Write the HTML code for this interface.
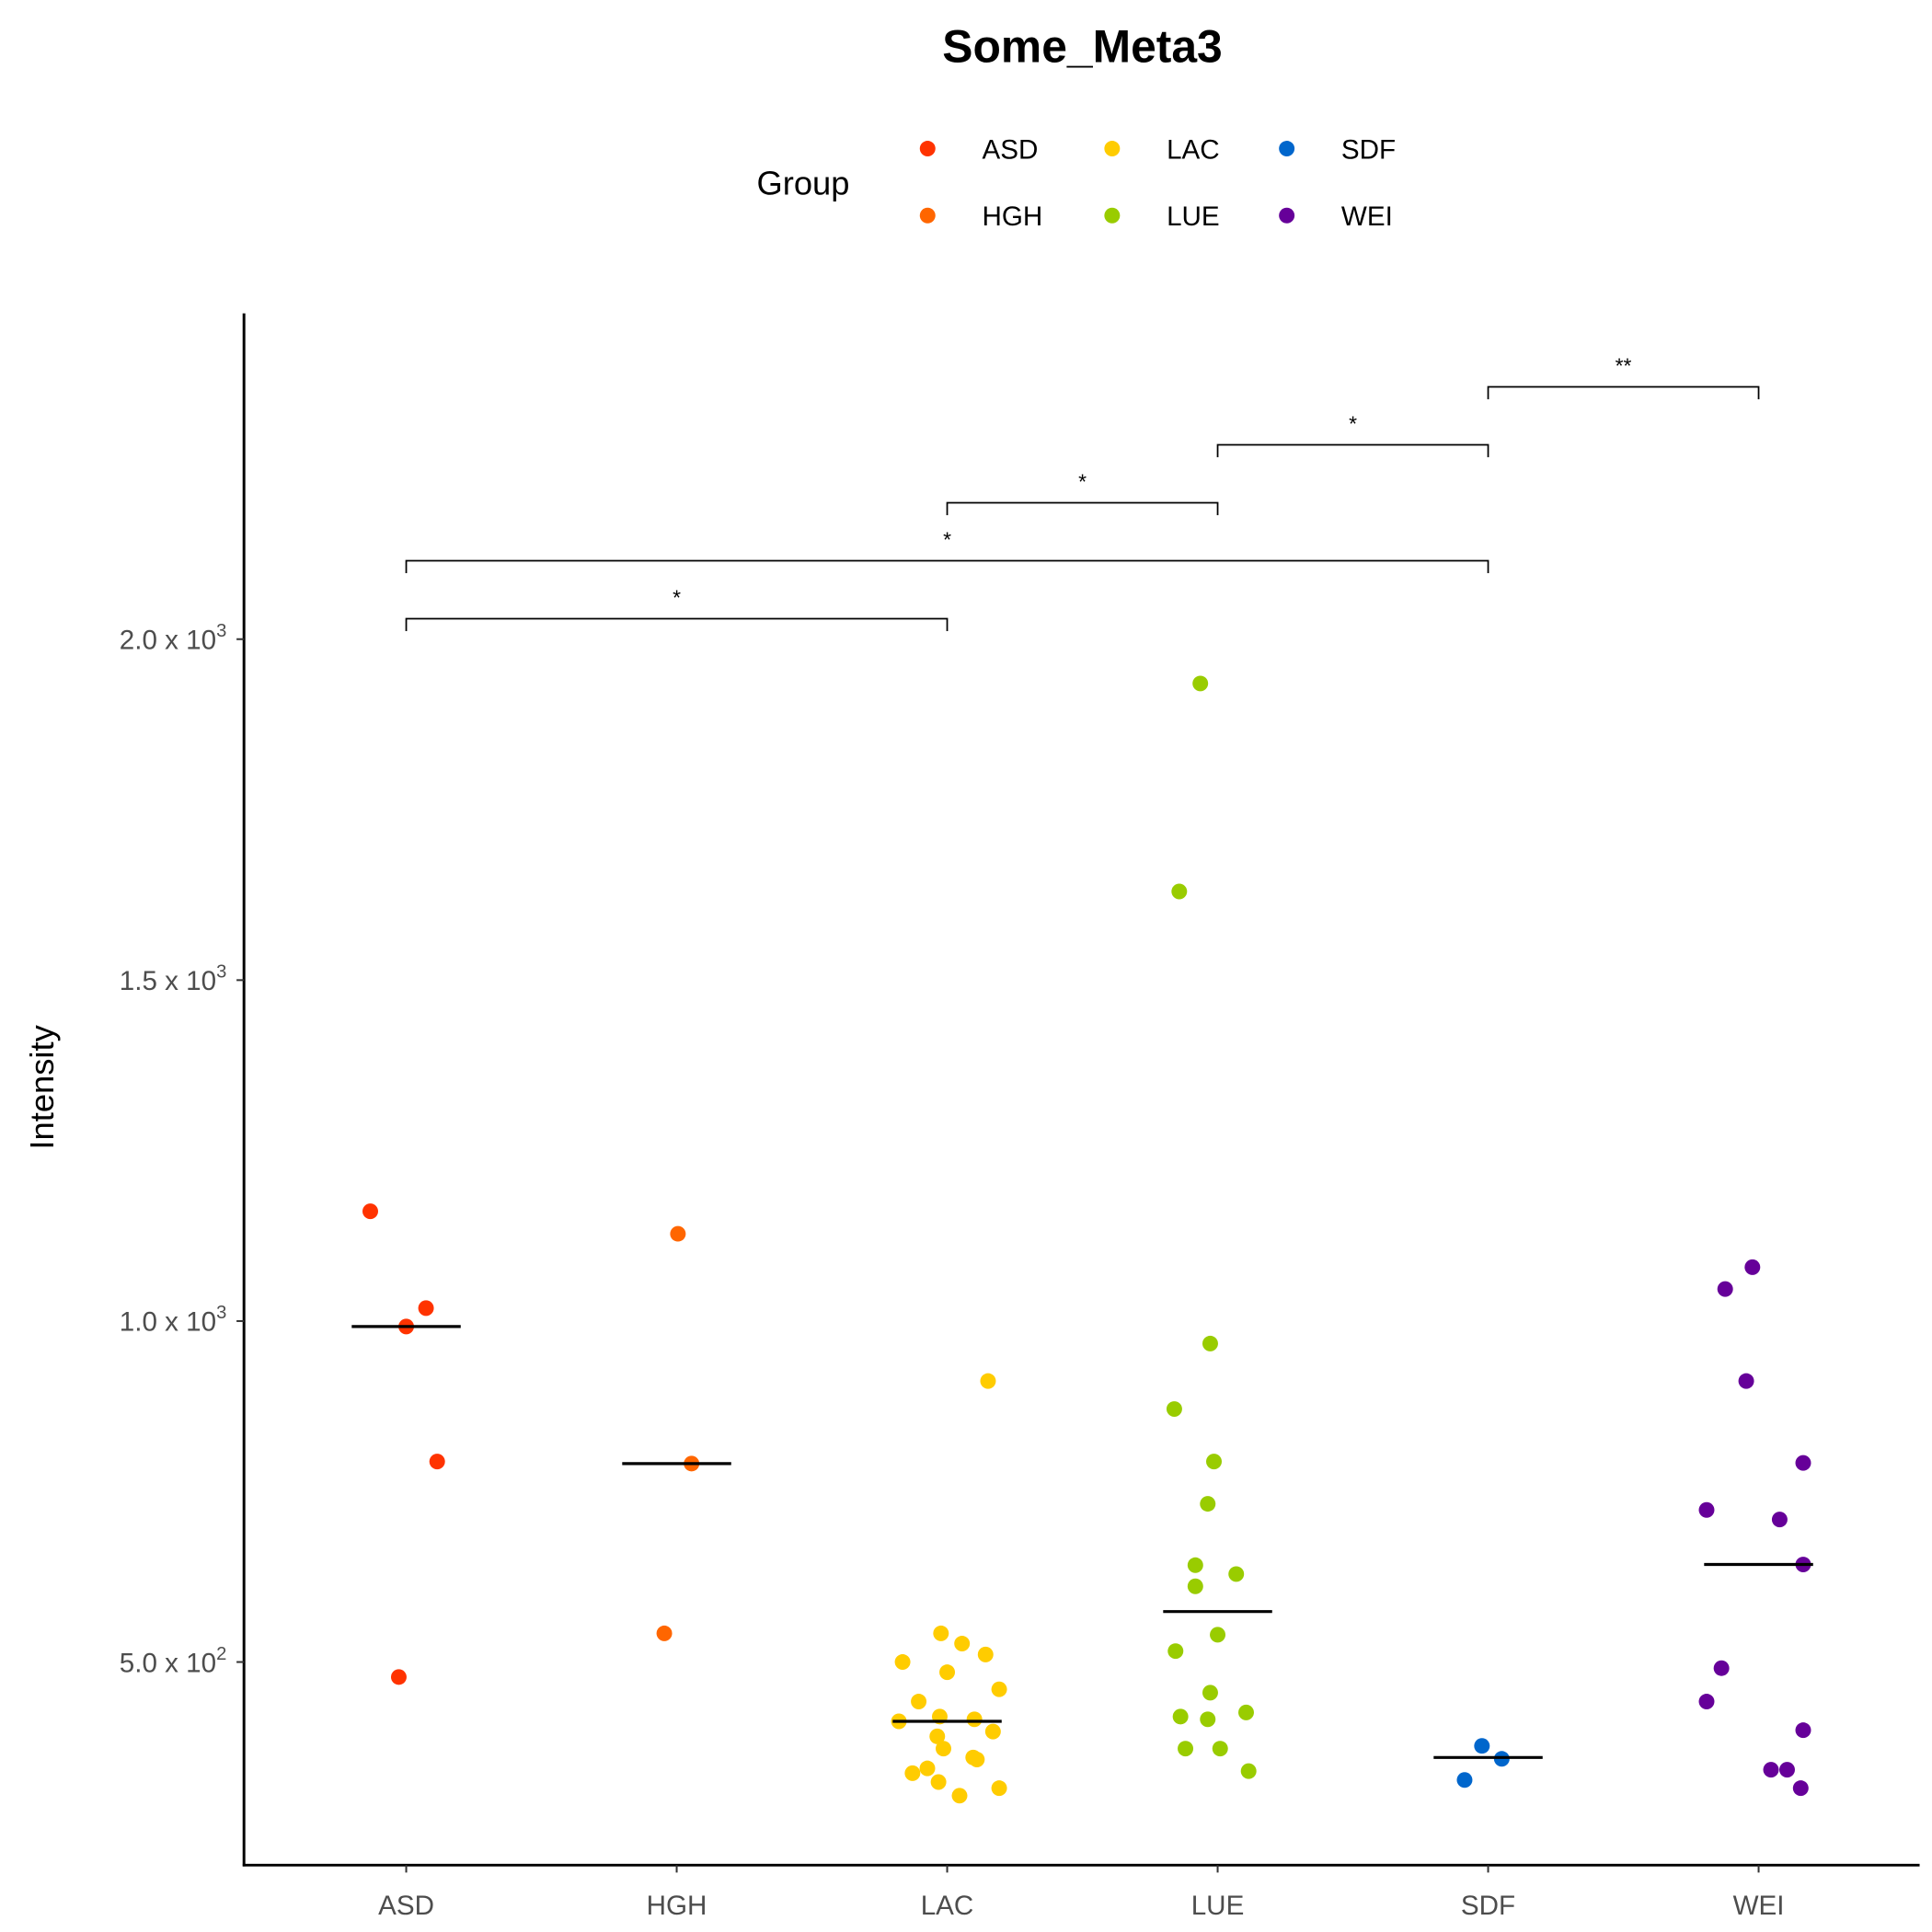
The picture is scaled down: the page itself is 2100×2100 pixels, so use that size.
<!DOCTYPE html>
<html><head><meta charset="utf-8"><style>html,body{margin:0;padding:0;background:#fff}svg{display:block;font-family:"Liberation Sans",Arial,sans-serif}</style></head>
<body>
<svg id="chart" width="2100" height="2100" viewBox="0 0 1560 1560" xmlns="http://www.w3.org/2000/svg">
<text x="874" y="50" text-anchor="middle" font-size="37" font-weight="bold">Some_Meta3</text>
<g id="legend">
<text x="611" y="157" font-size="27">Group</text>
</g>
<text transform="translate(43,878) rotate(-90)" text-anchor="middle" font-size="27">Intensity</text>
<g id="plot"></g>
</svg>
<script>
const categories = ["ASD","HGH","LAC","LUE","SDF","WEI"];
const colors = ["#FF3300","#FF6600","#FFCC00","#99CC00","#0066CC","#660099"];
const yTicks = [500,1000,1500,2000];
const yTickLabels = ["5.0 x 10","1.0 x 10","1.5 x 10","2.0 x 10"];
const yTickExp = ["2","3","3","3"];
const valsASD = [1161,1019,992,794,478];
const valsHGH = [1128,791,542];
const valsLAC = [912,500,542,527,511,485,442,460,413,420,416,398,391,373,360,357,344,337,324,315,304];
const valsLUE = [1935,1630,967,871,794,732,642,629,611,540,516,455,420,416,426,373,373,340];
const valsSDF = [377,358,327];
const valsWEI = [1079,1047,912,792,723,709,643,491,442,400,342,342,315];
const jitterASD = [-29,16,0,25,-6];
const jitterHGH = [1,12,-10];
const jitterLAC = [33,-36,-5,12,31,0,-23,42,-39,-6,22,37,-8,-3,21,24,-16,-28,-7,42,10];
const jitterLUE = [-14,-31,-6,-35,-3,-8,-18,15,-18,0,-34,-6,-30,-8,23,-26,2,25];
const jitterSDF = [-5,11,-19];
const jitterWEI = [-5,-27,-10,36,-42,17,36,-30,-42,36,10,23,34];
const medians = [992,791,413,574,360,643];
const comparisons = [["ASD","LAC","*"],["ASD","SDF","*"],["LAC","LUE","*"],["LUE","SDF","*"],["SDF","WEI","**"]];
const bracketY = [2030,2115,2200,2285,2370];
const allVals=[valsASD,valsHGH,valsLAC,valsLUE,valsSDF,valsWEI];
const allJit=[jitterASD,jitterHGH,jitterLAC,jitterLUE,jitterSDF,jitterWEI];
const NS="http://www.w3.org/2000/svg";
const X0=197,X1=1550,Ybot=1506,Ytop=253;
const xPos=i=>328+i*218.4;
const yPos=v=>1342-(v-500)*0.5506;
const plot=document.getElementById('plot');
function mk(tag,attrs,parent){const e=document.createElementNS(NS,tag);for(const k in attrs)e.setAttribute(k,attrs[k]);(parent||plot).appendChild(e);return e;}
// axes
let ax=mk('line',{x1:X0,y1:Ytop,x2:X0,y2:Ybot+1,stroke:'#000','stroke-width':2.2});


ax=mk('line',{x1:X0-1,y1:Ybot,x2:X1,y2:Ybot,stroke:'#000','stroke-width':2.2});


yTicks.forEach((v,i)=>{
 const y=yPos(v);
 const t=mk('line',{x1:X0-6,y1:y,x2:X0,y2:y,stroke:'#333','stroke-width':1.5});
 
 
 const tx=mk('text',{x:183,y:y+8,'text-anchor':'end','font-size':22,fill:'#4d4d4d'});
 
 
 tx.appendChild(document.createTextNode(yTickLabels[i]));
 const sp=mk('tspan',{dy:-10,'font-size':15},tx);sp.textContent=yTickExp[i];
});
categories.forEach((c,i)=>{
 const x=xPos(i);
 const t=mk('line',{x1:x,y1:Ybot,x2:x,y2:Ybot+6,stroke:'#333','stroke-width':1.5});
 
 
 const tx=mk('text',{x:x,y:1546,'text-anchor':'middle','font-size':22,fill:'#4d4d4d'});
 
 
 tx.textContent=c;
});
allVals.forEach((vals,i)=>{
 vals.forEach((v,j)=>{
  const p=mk('circle',{cx:xPos(i)+allJit[i][j],cy:yPos(v),r:6.3,fill:colors[i]});
  
  
 });
 const m=mk('line',{x1:xPos(i)-44,x2:xPos(i)+44,y1:yPos(medians[i]),y2:yPos(medians[i]),stroke:'#000','stroke-width':2.4});
 
 
});
comparisons.forEach((c,k)=>{
 const a=xPos(categories.indexOf(c[0])),b=xPos(categories.indexOf(c[1])),y=yPos(bracketY[k]);
 const br=mk('path',{d:`M${a},${y+10}V${y}H${b}V${y+10}`,fill:'none',stroke:'#000','stroke-width':1.3});
 
 
 const s=mk('text',{x:(a+b)/2,y:y-11,'text-anchor':'middle','font-size':17});
 
 
 s.textContent=c[2];
});
const lg=document.getElementById('legend');
const lx=[749,898,1039], order=[[0,1],[2,3],[4,5]];
order.forEach((col,ci)=>col.forEach((gi,ri)=>{
 const y=120+ri*54;
 const d=mk('circle',{cx:lx[ci],cy:y,r:6.3,fill:colors[gi]},lg);
 
 
 const t=mk('text',{x:lx[ci]+44,y:y+8,'font-size':22},lg);
 
 
 t.textContent=categories[gi];
}));
</script>
</body></html>
